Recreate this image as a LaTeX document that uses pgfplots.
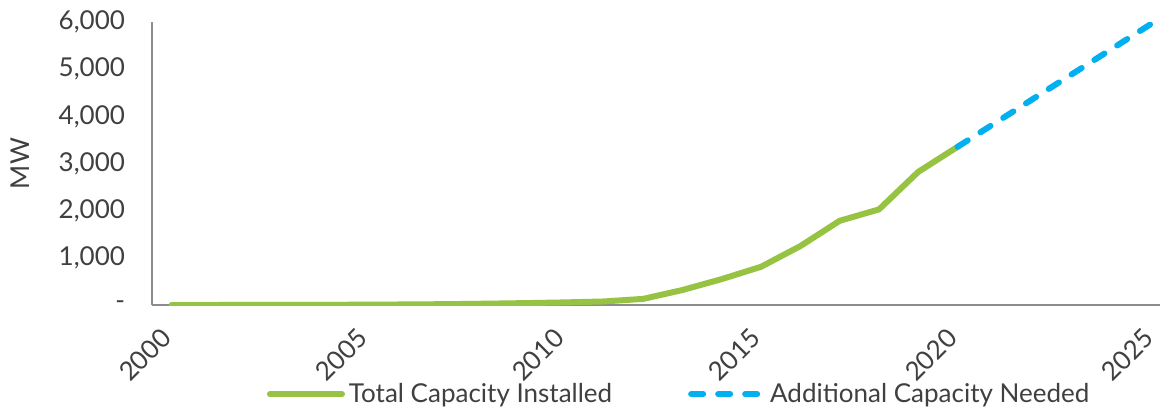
\documentclass[border=0pt]{standalone}
\usepackage{fontspec}
\setmainfont{Lato}
\usepackage{pgfplots}
\pgfplotsset{compat=1.18}
\definecolor{cgreen}{HTML}{96C341}
\definecolor{cblue}{HTML}{00B0F0}
\definecolor{caxis}{HTML}{8C8C8C}
\definecolor{ctext}{HTML}{404040}
\begin{document}
\begin{tikzpicture}
\useasboundingbox[fill=white] (-76pt,-52pt) rectangle (505.5pt,152.5pt);
\begin{axis}[
  at={(0,0)}, anchor=south west,
  scale only axis,
  width=504pt, height=141.5pt,
  xmin=1999.5, xmax=2025.15,
  ymin=0, ymax=6000,
  axis x line*=bottom, axis y line*=left,
  axis line style={caxis, line width=0.9pt, -},
  tick style={draw=none},
  xtick={2000,2005,2010,2015,2020,2025},
  xticklabels={2000,2005,2010,2015,2020,2025},
  ytick={0,1000,2000,3000,4000,5000,6000},
  yticklabels={-,{1,000},{2,000},{3,000},{4,000},{5,000},{6,000}},
  /pgf/number format/assume math mode=true,
  every tick label/.append style={font=\fontsize{13}{15}\selectfont, text=ctext},
  xticklabel style={xshift=-6pt, yshift=-6pt, rotate=45, anchor=north east},
  yticklabel style={xshift=-10pt},
  ylabel={MW},
  ylabel style={at={(axis description cs:-0.131,0.5)}, anchor=center, rotate=0,
    font=\fontsize{13}{15}\selectfont, text=ctext},
  legend columns=2,
  legend style={at={(axis description cs:0.524,-0.315)}, anchor=center, draw=none, fill=none,
    font=\fontsize{13}{15}\selectfont, text=ctext, inner sep=0pt,
    /tikz/every even column/.append style={column sep=36pt}},
  legend image code/.code={\draw[#1] (0pt,0pt) -- (36pt,0pt);},
]
\addplot[cgreen, line width=3pt, line join=round, line cap=round] coordinates {
(2000,0) (2001,0) (2002,1) (2003,2) (2004,4) (2005,7) (2006,12) (2007,18)
(2008,28) (2009,40) (2010,55) (2011,75) (2012,130) (2013,318) (2014,550)
(2015,811) (2016,1250) (2017,1786) (2018,2027) (2019,2824) (2020,3354)
};
\addlegendentry{Total Capacity Installed}
\addplot[cblue, line width=3pt, line cap=round, dash pattern=on 6pt off 7.5pt] coordinates {
(2020,3354) (2025,6000)
};
\addlegendentry{Additional Capacity Needed}
\end{axis}
\end{tikzpicture}
\end{document}
